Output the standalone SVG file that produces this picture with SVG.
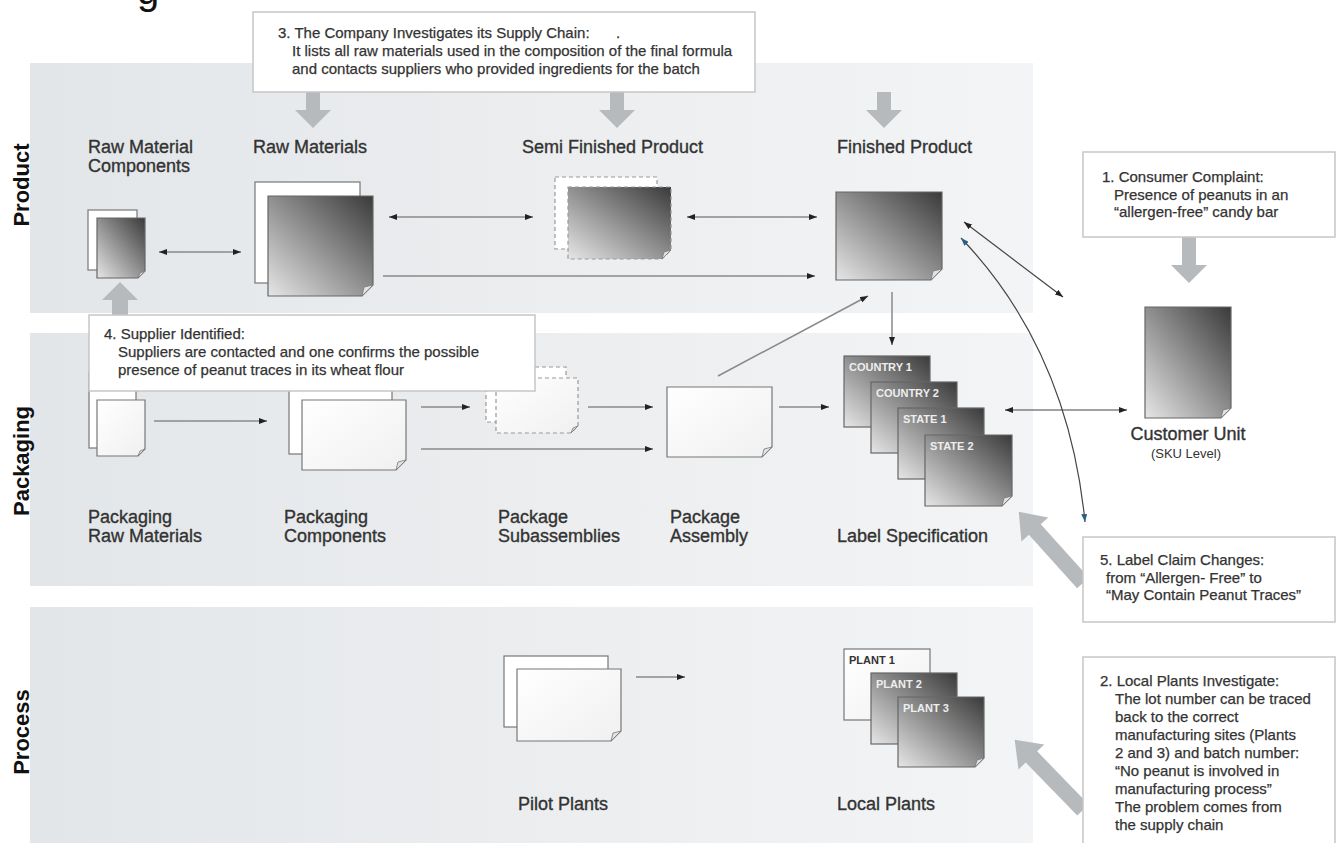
<svg xmlns="http://www.w3.org/2000/svg" width="1336" height="843" viewBox="0 0 1336 843">
<defs>
<linearGradient id="band" x1="0" y1="0" x2="1" y2="0"><stop offset="0" stop-color="#e3e6e9"/><stop offset="1" stop-color="#f3f4f5"/></linearGradient>
<linearGradient id="gs" x1="1" y1="0" x2="0" y2="1"><stop offset="0" stop-color="#3a3a3a"/><stop offset="1" stop-color="#e6e6e6"/></linearGradient>
<linearGradient id="ws" x1="0" y1="0" x2="1" y2="1"><stop offset="0" stop-color="#ffffff"/><stop offset="1" stop-color="#f0f0f0"/></linearGradient>
<marker id="ah" viewBox="0 0 8 6" refX="8" refY="3" markerWidth="8" markerHeight="6" markerUnits="userSpaceOnUse" orient="auto-start-reverse"><path d="M0,0 L8,3 L0,6 Z" fill="#222"/></marker>
<marker id="ab" viewBox="0 0 8 6" refX="8" refY="3" markerWidth="8" markerHeight="6" markerUnits="userSpaceOnUse" orient="auto-start-reverse"><path d="M0,0 L8,3 L0,6 Z" fill="#2c5f80"/></marker>
<style>
text{font-family:"Liberation Sans",Arial,sans-serif}
.lbl{font-size:18px;fill:#333;stroke:#333;stroke-width:0.35}
.co{font-size:15px;fill:#333;stroke:#333;stroke-width:0.25}
.side{font-size:22px;font-weight:bold;fill:#111}
.tab{font-size:11px;font-weight:bold;fill:#eeeeee}
.tabd{font-size:11px;font-weight:bold;fill:#333}
.box{fill:#fff;stroke:#c6c6c6;stroke-width:1.5}
.big{fill:#b7babd}
.back{fill:#fff;stroke:#777;stroke-width:1.2}
.wht{fill:url(#ws);stroke:#777;stroke-width:1.2}
.grd{fill:url(#gs);stroke:#666;stroke-width:1.2}
.dsh{stroke-dasharray:4 3;stroke:#999}
.fold{fill:#e2e2e2;stroke:#777;stroke-width:0.8}
.ln{fill:none;stroke:#8a8a8a;stroke-width:1.5}
.dk{fill:none;stroke:#444;stroke-width:1.2}
</style>
</defs>
<rect width="1336" height="843" fill="#fff"/>
<text x="137" y="4" style="font-size:40px;fill:#111">g</text>

<g id="bands">
<rect x="30" y="63" width="1003" height="250" fill="url(#band)"/>
<rect x="30" y="333" width="1003" height="253" fill="url(#band)"/>
<rect x="30" y="607" width="1003" height="236" fill="url(#band)"/>
<text class="side" transform="translate(29,185) rotate(-90)" text-anchor="middle">Product</text>
<text class="side" transform="translate(29,461) rotate(-90)" text-anchor="middle">Packaging</text>
<text class="side" transform="translate(29,732) rotate(-90)" text-anchor="middle">Process</text>
</g>

<g id="big-arrows">
<polygon class="big" points="306,92 320,92 320,110 331,110 313,128 295,110 306,110"/>
<polygon class="big" points="610,92 624,92 624,110 635,110 617,128 599,110 610,110"/>
<polygon class="big" points="877,92 891,92 891,110 902,110 884,128 866,110 877,110"/>
<polygon class="big" points="1182,237 1196,237 1196,265 1207,265 1189,283 1171,265 1182,265"/>
<polygon class="big" points="112,315 128,315 128,300 138,300 120,282 102,300 112,300"/>
<polygon class="big" points="0,-8 72,-8 72,-18 96,0 72,18 72,8 0,8" transform="translate(1083,583) rotate(-132)"/>
<polygon class="big" points="0,-8 74,-8 74,-18 98,0 74,18 74,8 0,8" transform="translate(1083,810) rotate(-134.2)"/>
</g>

<g id="connectors">
<line class="ln" x1="159" y1="252" x2="241" y2="252" marker-start="url(#ah)" marker-end="url(#ah)"/>
<line class="ln" x1="389" y1="217" x2="533" y2="217" marker-start="url(#ah)" marker-end="url(#ah)"/>
<line class="ln" x1="687" y1="217" x2="817" y2="217" marker-start="url(#ah)" marker-end="url(#ah)"/>
<line class="ln" x1="383" y1="276" x2="815" y2="276" marker-end="url(#ah)"/>
<line class="ln" x1="892" y1="292" x2="892" y2="345" marker-end="url(#ah)"/>
<line class="ln" x1="718" y1="376" x2="868" y2="296" marker-end="url(#ah)"/>
<line class="ln" x1="154" y1="421" x2="267" y2="421" marker-end="url(#ah)"/>
<line class="ln" x1="421" y1="407" x2="470" y2="407" marker-end="url(#ah)"/>
<line class="ln" x1="421" y1="449" x2="653" y2="449" marker-end="url(#ah)"/>
<line class="ln" x1="588" y1="407" x2="653" y2="407" marker-end="url(#ah)"/>
<line class="ln" x1="779" y1="407" x2="829" y2="407" marker-end="url(#ah)"/>
<line class="dk" x1="1005" y1="410" x2="1127" y2="410" marker-start="url(#ah)" marker-end="url(#ah)"/>
<line class="ln" x1="636" y1="677" x2="685" y2="677" marker-end="url(#ah)"/>
<line class="dk" x1="964" y1="222" x2="1063" y2="297" marker-start="url(#ah)" marker-end="url(#ah)"/>
<path class="dk" d="M961,238 Q1068,350 1085,522" marker-start="url(#ab)" marker-end="url(#ab)"/>
</g>

<g id="raw-material-components">
<rect class="back" x="88" y="210" width="49" height="60"/>
<path class="grd" d="M97,218 H145 V271 L138,278 H97 Z"/>
<path class="fold" d="M145,271 L138,278 L140,273 Z"/>
<text class="lbl" x="88" y="153">Raw Material</text>
<text class="lbl" x="88" y="172">Components</text>
</g>

<g id="raw-materials">
<rect class="back" x="255" y="182" width="105" height="101"/>
<path class="grd" d="M268,196 H373 V285 L362,296 H268 Z"/>
<path class="fold" d="M373,285 L362,296 L364,287 Z"/>
<text class="lbl" x="253" y="153">Raw Materials</text>
</g>

<g id="semi-finished-product">
<rect class="back dsh" x="555" y="177" width="102" height="72"/>
<path class="grd dsh" d="M568,187 H671 V250 L662,259 H568 Z"/>
<path class="fold" d="M671,250 L662,259 L664,252 Z"/>
<text class="lbl" x="522" y="153">Semi Finished Product</text>
</g>

<g id="finished-product">
<path class="grd" d="M836,192 H942 V269 L931,280 H836 Z"/>
<path class="fold" d="M942,269 L931,280 L933,271 Z"/>
<text class="lbl" x="837" y="153">Finished Product</text>
</g>

<g id="customer-unit">
<path class="grd" d="M1145,307 H1231 V408 L1221,418 H1145 Z"/>
<path class="fold" d="M1231,408 L1221,418 L1223,410 Z"/>
<text class="lbl" x="1188" y="440" text-anchor="middle">Customer Unit</text>
<text x="1186" y="458" text-anchor="middle" style="font-size:13px;fill:#333">(SKU Level)</text>
</g>

<g id="packaging-raw-materials">
<rect class="back" x="89" y="372" width="47" height="76"/>
<path class="wht" d="M97,400 H145 V449 L138,456 H97 Z"/>
<path class="fold" d="M145,449 L138,456 L140,451 Z"/>
<text class="lbl" x="88" y="523">Packaging</text>
<text class="lbl" x="88" y="542">Raw Materials</text>
</g>

<g id="packaging-components">
<rect class="back" x="289" y="372" width="103" height="82"/>
<path class="wht" d="M302,400 H406 V460 L396,470 H302 Z"/>
<path class="fold" d="M406,460 L396,470 L398,462 Z"/>
<text class="lbl" x="284" y="523">Packaging</text>
<text class="lbl" x="284" y="542">Components</text>
</g>

<g id="package-subassemblies">
<rect class="back dsh" x="486" y="367" width="80" height="55"/>
<path class="wht dsh" d="M496,378 H578 V426 L571,433 H496 Z"/>
<path class="fold" d="M578,426 L571,433 L573,428 Z"/>
<text class="lbl" x="498" y="523">Package</text>
<text class="lbl" x="498" y="542">Subassemblies</text>
</g>

<g id="package-assembly">
<path class="wht" d="M667,387 H772 V447 L762,457 H667 Z"/>
<path class="fold" d="M772,447 L762,457 L764,449 Z"/>
<text class="lbl" x="670" y="523">Package</text>
<text class="lbl" x="670" y="542">Assembly</text>
</g>

<g id="label-specification">
<rect class="grd" x="844" y="356" width="86" height="71"/>
<text class="tab" x="849" y="371">COUNTRY 1</text>
<rect class="grd" x="871" y="382" width="86" height="71"/>
<text class="tab" x="876" y="397">COUNTRY 2</text>
<rect class="grd" x="898" y="408" width="86" height="71"/>
<text class="tab" x="903" y="423">STATE 1</text>
<path class="grd" d="M925,435 H1012 V496 L1002,506 H925 Z"/>
<path class="fold" d="M1012,496 L1002,506 L1004,498 Z"/>
<text class="tab" x="930" y="450">STATE 2</text>
<text class="lbl" x="837" y="542">Label Specification</text>
</g>

<g id="pilot-plants">
<rect class="back" x="504" y="656" width="104" height="71"/>
<path class="wht" d="M517,669 H621 V731 L611,741 H517 Z"/>
<path class="fold" d="M621,731 L611,741 L613,733 Z"/>
<text class="lbl" x="518" y="810">Pilot Plants</text>
</g>

<g id="local-plants">
<rect class="wht" x="844" y="649" width="86" height="71"/>
<text class="tabd" x="849" y="664">PLANT 1</text>
<rect class="grd" x="871" y="673" width="86" height="71"/>
<text class="tab" x="876" y="688">PLANT 2</text>
<path class="grd" d="M898,697 H984 V758 L975,767 H898 Z"/>
<path class="fold" d="M984,758 L975,767 L977,760 Z"/>
<text class="tab" x="903" y="712">PLANT 3</text>
<text class="lbl" x="837" y="810">Local Plants</text>
</g>

<g id="callout-3">
<rect class="box" x="253" y="12" width="502" height="80"/>
<text class="co" x="278" y="38">3. The Company Investigates its Supply Chain:</text>
<text class="co" x="616" y="38">.</text>
<text class="co" x="292" y="56">It lists all raw materials used in the composition of the final formula</text>
<text class="co" x="292" y="74">and contacts suppliers who provided ingredients for the batch</text>
</g>

<g id="callout-4">
<rect class="box" x="89" y="315" width="446" height="76"/>
<text class="co" x="104" y="339">4. Supplier Identified:</text>
<text class="co" x="118" y="357">Suppliers are contacted and one confirms the possible</text>
<text class="co" x="118" y="375">presence of peanut traces in its wheat flour</text>
</g>

<g id="callout-1">
<rect class="box" x="1083" y="152" width="252" height="85"/>
<text class="co" x="1102" y="182">1. Consumer Complaint:</text>
<text class="co" x="1114" y="200">Presence of peanuts in an</text>
<text class="co" x="1114" y="217">“allergen-free” candy bar</text>
</g>

<g id="callout-5">
<rect class="box" x="1083" y="537" width="252" height="85"/>
<text class="co" x="1100" y="565">5. Label Claim Changes:</text>
<text class="co" x="1106" y="583">from “Allergen- Free” to</text>
<text class="co" x="1106" y="600">“May Contain Peanut Traces”</text>
</g>

<g id="callout-2">
<rect class="box" x="1083" y="657" width="252" height="190"/>
<text class="co" x="1100" y="686">2. Local Plants Investigate:</text>
<text class="co" x="1115" y="704">The lot number can be traced</text>
<text class="co" x="1115" y="722">back to the correct</text>
<text class="co" x="1115" y="740">manufacturing sites (Plants</text>
<text class="co" x="1115" y="758">2 and 3) and batch number:</text>
<text class="co" x="1115" y="776">“No peanut is involved in</text>
<text class="co" x="1115" y="794">manufacturing process”</text>
<text class="co" x="1115" y="812">The problem comes from</text>
<text class="co" x="1115" y="830">the supply chain</text>
</g>
</svg>
